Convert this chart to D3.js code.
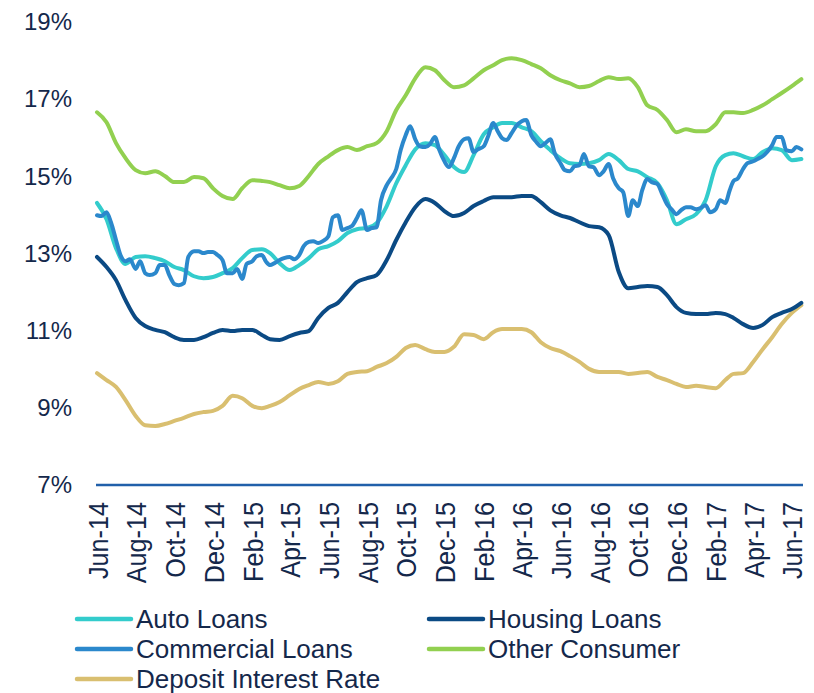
<!DOCTYPE html>
<html>
<head>
<meta charset="utf-8">
<title>Lending rates</title>
<script src="https://cdn.jsdelivr.net/npm/d3@7"></script>
<style>
  body { margin: 0; background: #fff; }
  .axis text { fill: #14284b; font-family: "Liberation Sans", Arial, sans-serif; }
  .ylab text { font-size: 24px; }
  .xlab text { font-size: 28px; }
  .legend text { font-family: "Liberation Sans", Arial, sans-serif; font-size: 26px; fill: #14284b; }
</style>
</head>
<body>
<svg width="814" height="693"></svg>
<script>

// half-month points, 1st and 16th of each month, Jun-14 .. mid Jun-17
var autoLoans = [14.31,13.89,13.14,12.73,12.91,12.93,12.88,12.80,12.65,12.57,12.41,12.36,12.39,12.49,12.62,12.88,
  13.09,13.11,13.01,12.75,12.57,12.70,12.88,13.11,13.19,13.32,13.53,13.63,13.66,13.79,14.23,14.82,15.29,15.70,
  15.86,15.81,15.55,15.24,15.11,15.55,16.09,16.27,16.38,16.38,16.27,16.17,15.91,15.68,15.47,15.34,15.32,15.34,
  15.42,15.58,15.42,15.19,15.13,14.98,14.82,14.38,13.76,13.89,14.02,14.38,15.26,15.55,15.60,15.52,15.45,15.63,
  15.73,15.68,15.42,15.45];

var housingLoans = [12.91,12.65,12.31,11.79,11.33,11.12,11.02,10.96,10.83,10.76,10.76,10.83,10.94,11.02,10.99,11.02,
  11.02,10.89,10.78,10.76,10.86,10.94,10.99,11.33,11.59,11.72,12.00,12.26,12.36,12.44,12.83,13.35,13.81,14.20,
  14.41,14.31,14.10,13.97,14.05,14.23,14.36,14.46,14.46,14.46,14.49,14.49,14.33,14.12,13.99,13.92,13.81,13.71,
  13.68,13.48,12.52,12.10,12.13,12.16,12.13,11.92,11.61,11.46,11.43,11.43,11.46,11.43,11.33,11.17,11.07,11.15,
  11.35,11.46,11.56,11.72];

var otherConsumer = [16.66,16.40,15.86,15.47,15.16,15.08,15.13,15.01,14.85,14.85,14.98,14.95,14.69,14.49,14.41,14.69,
  14.90,14.88,14.85,14.77,14.69,14.75,15.01,15.32,15.52,15.68,15.76,15.68,15.78,15.86,16.17,16.72,17.10,17.54,
  17.83,17.75,17.49,17.31,17.36,17.54,17.75,17.88,18.01,18.06,18.01,17.91,17.80,17.62,17.49,17.41,17.31,17.34,
  17.47,17.57,17.52,17.54,17.31,16.84,16.72,16.46,16.14,16.22,16.17,16.17,16.35,16.66,16.66,16.64,16.72,16.84,
  17.00,17.16,17.34,17.52];

var depositRate = [9.90,9.72,9.54,9.20,8.79,8.55,8.53,8.58,8.66,8.74,8.84,8.89,8.92,9.05,9.31,9.25,
  9.05,8.99,9.05,9.15,9.33,9.49,9.59,9.67,9.62,9.69,9.88,9.93,9.95,10.06,10.16,10.32,10.55,10.63,
  10.52,10.45,10.45,10.58,10.91,10.89,10.78,10.96,11.04,11.04,11.04,10.96,10.70,10.55,10.47,10.34,10.19,10.01,
  9.93,9.93,9.93,9.88,9.90,9.93,9.80,9.72,9.62,9.54,9.57,9.54,9.51,9.72,9.88,9.90,10.19,10.52,
  10.83,11.17,11.46,11.66];

// quarter-month points (roughly weekly), same span
var commercialLoans = [13.99,13.97,14.07,13.81,13.35,12.96,12.80,12.85,12.60,12.80,12.49,12.44,12.49,12.70,12.70,12.44,
  12.21,12.18,12.23,12.91,13.06,13.06,13.01,13.04,13.04,12.96,12.83,12.49,12.49,12.60,12.34,12.73,
  12.80,12.93,12.96,12.78,12.70,12.75,12.83,12.88,12.91,12.85,12.96,13.19,13.30,13.32,13.27,13.32,
  13.45,13.94,13.99,13.61,13.66,13.71,13.92,14.12,13.61,13.66,13.68,14.38,14.77,14.95,15.19,15.68,
  16.07,16.30,15.96,15.78,15.76,15.83,16.02,15.68,15.39,15.24,15.47,15.76,15.96,15.99,15.63,15.70,
  15.78,16.04,16.38,16.17,15.99,15.94,16.12,16.30,16.43,16.46,16.07,15.91,15.78,15.86,15.96,15.60,
  15.34,15.16,15.13,15.26,15.29,15.58,15.26,15.24,15.03,15.13,15.32,14.95,14.69,14.59,13.97,14.38,
  14.23,14.64,14.93,14.85,14.80,14.56,14.28,14.15,14.02,14.12,14.20,14.20,14.15,14.18,14.25,14.07,
  14.15,14.38,14.31,14.64,14.88,14.95,15.19,15.34,15.39,15.45,15.52,15.63,15.81,16.02,16.02,15.68,
  15.65,15.76,15.70];

var tickLabels = ["Jun-14","Aug-14","Oct-14","Dec-14","Feb-15","Apr-15","Jun-15","Aug-15","Oct-15","Dec-15",
  "Feb-16","Apr-16","Jun-16","Aug-16","Oct-16","Dec-16","Feb-17","Apr-17","Jun-17"];
var yTicks = [7, 9, 11, 13, 15, 17, 19];

var seriesNames = ["Auto Loans","Housing Loans","Commercial Loans","Other Consumer","Deposit Interest Rate"];
var seriesColors = ["#33cccc","#0b4a84","#2b88cc","#92d050","#d9bf70"];

// dates for the points
function halfMonth(i) { return new Date(2014, 5 + Math.floor(i / 2), i % 2 ? 16 : 1); }
function quarterMonth(i) { return new Date(2014, 5 + Math.floor(i / 4), [1, 8, 16, 23][i % 4]); }

var svg = d3.select("svg");

var x = d3.scaleTime()
    .domain([new Date(2014, 5, 1), new Date(2017, 5, 17)])
    .range([97, 802]);

var y = d3.scaleLinear()
    .domain([7, 19])
    .range([485, 22]);

var parseTick = d3.timeParse("%b-%y");

// y labels
svg.append("g")
    .attr("class", "axis ylab")
    .attr("transform", "translate(96,0)")
    .call(d3.axisLeft(y).tickValues(yTicks).tickSize(0).tickPadding(24)
      .tickFormat(function(d) { return d + "%"; }))
  .select(".domain").remove();

// x axis
var xg = svg.append("g")
    .attr("class", "axis xlab")
    .attr("transform", "translate(0,485)")
    .call(d3.axisBottom(x)
      .tickValues(tickLabels.map(parseTick))
      .tickSize(0)
      .tickFormat(function(d, i) { return tickLabels[i]; }));

xg.select(".domain")
    .attr("stroke", "#2160aa")
    .attr("stroke-width", 2.5)
    .attr("d", "M96,0H803");

// labels read upward, a bit condensed like the original
xg.selectAll(".tick text")
    .attr("transform", "rotate(-90) scale(0.9,1)")
    .attr("x", -19)
    .attr("y", 0)
    .attr("dy", "0.36em")
    .style("text-anchor", "end");

var line = d3.line()
    .x(function(d) { return x(d.date); })
    .y(function(d) { return y(d.value); })
    .curve(d3.curveMonotoneX);

function toPoints(values, dateFn) {
  return values.map(function(v, i) { return { date: dateFn(i), value: v }; });
}

var series = [
  { name: "Deposit Interest Rate", values: toPoints(depositRate, halfMonth) },
  { name: "Other Consumer", values: toPoints(otherConsumer, halfMonth) },
  { name: "Housing Loans", values: toPoints(housingLoans, halfMonth) },
  { name: "Auto Loans", values: toPoints(autoLoans, halfMonth) },
  { name: "Commercial Loans", values: toPoints(commercialLoans, quarterMonth) }
];

var color = d3.scaleOrdinal().domain(seriesNames).range(seriesColors);

svg.append("g")
  .selectAll("path")
  .data(series)
  .enter().append("path")
    .attr("fill", "none")
    .attr("stroke", function(d) { return color(d.name); })
    .attr("stroke-width", 4)
    .attr("stroke-linejoin", "round")
    .attr("stroke-linecap", "round")
    .attr("d", function(d) { return line(d.values); });

// legend, two columns
var legend = svg.append("g").attr("class", "legend");

var items = legend.selectAll("g")
  .data(seriesNames)
  .enter().append("g")
    .attr("transform", function(d, i) {
      return "translate(" + (i % 2 ? 429 : 77) + "," + (619 + Math.floor(i / 2) * 30) + ")";
    });

items.append("line")
    .attr("x1", 0).attr("x2", 54)
    .attr("stroke", function(d) { return color(d); })
    .attr("stroke-width", 4.5)
    .attr("stroke-linecap", "round");

items.append("text")
    .attr("x", 59)
    .attr("dy", "0.36em")
    .text(function(d) { return d; });

</script>
</body>
</html>
